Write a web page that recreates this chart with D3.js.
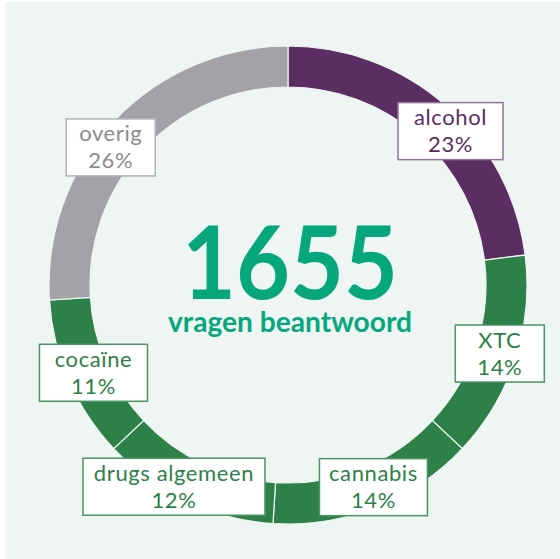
<!DOCTYPE html>
<html>
<head>
<meta charset="utf-8">
<script src="https://cdn.jsdelivr.net/npm/d3@7"></script>
<style>
  html, body { margin: 0; padding: 0; background: #ffffff; }
</style>
</head>
<body>
<div id="chart"></div>
<script>
// data
var categories = ["alcohol", "XTC", "cannabis", "drugs algemeen", "cocaïne", "overig"];
var shares     = [23, 14, 14, 12, 11, 26];
var totalCount = 1655;
var totalLabel = "vragen beantwoord";

// styles per category
var fills   = ["#5b2d63", "#2e8049", "#2e8049", "#2e8049", "#2e8049", "#a4a2a6"];
var strokes = ["#927399", "#4a9465", "#4a9465", "#4a9465", "#4a9465", "#b4b2b6"];
var inks    = ["#5b2d63", "#2e8049", "#2e8049", "#2e8049", "#2e8049", "#8d8b8f"];

// label box layout: width and nudge from the arc centroid
var boxW  = [105, 89, 108, 182, 108, 89];
var nudge = [[18, 10], [4, 1], [5, -1], [-21, 4], [6, 1], [-18, 12]];

var width = 560, height = 559;
var cx = 288, cy = 285;
var outerR = 239, innerR = 198;

var svg = d3.select("#chart")
  .append("svg")
  .attr("width", width)
  .attr("height", height);

// background panel
svg.append("rect")
  .attr("x", 5)
  .attr("y", 2)
  .attr("width", width - 5)
  .attr("height", height - 2)
  .style("fill", "#eef5f2");

var g = svg.append("g")
  .attr("transform", "translate(" + cx + "," + cy + ")");

var pie = d3.pie().sort(null).value(function(d) { return d; });
var arcs = pie(shares);

var arc = d3.arc().innerRadius(innerR).outerRadius(outerR);

// ring segments
g.selectAll("path")
  .data(arcs)
  .enter()
    .append("path")
    .attr("d", arc)
    .style("fill", function(d, i) { return fills[i]; })
    .style("stroke", "#eef5f2")
    .style("stroke-width", 1.2);

// centre figure
g.append("text")
  .attr("x", 2)
  .attr("y", 14)
  .attr("text-anchor", "middle")
  .attr("font-family", "Lato, sans-serif")
  .attr("font-weight", "bold")
  .attr("font-size", 102)
  .attr("textLength", 216)
  .attr("lengthAdjust", "spacingAndGlyphs")
  .style("fill", "#06a77d")
  .text(totalCount);

g.append("text")
  .attr("x", 2)
  .attr("y", 47)
  .attr("text-anchor", "middle")
  .attr("font-family", "Lato, sans-serif")
  .attr("font-weight", "bold")
  .attr("font-size", 28)
  .attr("textLength", 244)
  .attr("lengthAdjust", "spacingAndGlyphs")
  .style("fill", "#06a77d")
  .text(totalLabel);

// label boxes
var boxH = 57;
var labels = g.selectAll("g.label")
  .data(arcs)
  .enter()
    .append("g")
    .attr("class", "label")
    .attr("transform", function(d, i) {
      var c = arc.centroid(d);
      return "translate(" + (c[0] + nudge[i][0]) + "," + (c[1] + nudge[i][1]) + ")";
    });

labels.append("rect")
  .attr("x", function(d, i) { return -boxW[i] / 2; })
  .attr("y", -boxH / 2)
  .attr("width", function(d, i) { return boxW[i]; })
  .attr("height", boxH)
  .style("fill", "#ffffff")
  .style("stroke", function(d, i) { return strokes[i]; })
  .style("stroke-width", 1.5);

labels.append("text")
  .attr("text-anchor", "middle")
  .attr("y", -6)
  .attr("font-family", "Lato, sans-serif")
  .attr("font-size", 22)
  .attr("letter-spacing", 0.6)
  .style("fill", function(d, i) { return inks[i]; })
  .text(function(d, i) { return categories[i]; });

labels.append("text")
  .attr("text-anchor", "middle")
  .attr("y", 21)
  .attr("font-family", "Lato, sans-serif")
  .attr("font-size", 22)
  .attr("letter-spacing", 0.6)
  .style("fill", function(d, i) { return inks[i]; })
  .text(function(d) { return d.value + "%"; });
</script>
</body>
</html>
